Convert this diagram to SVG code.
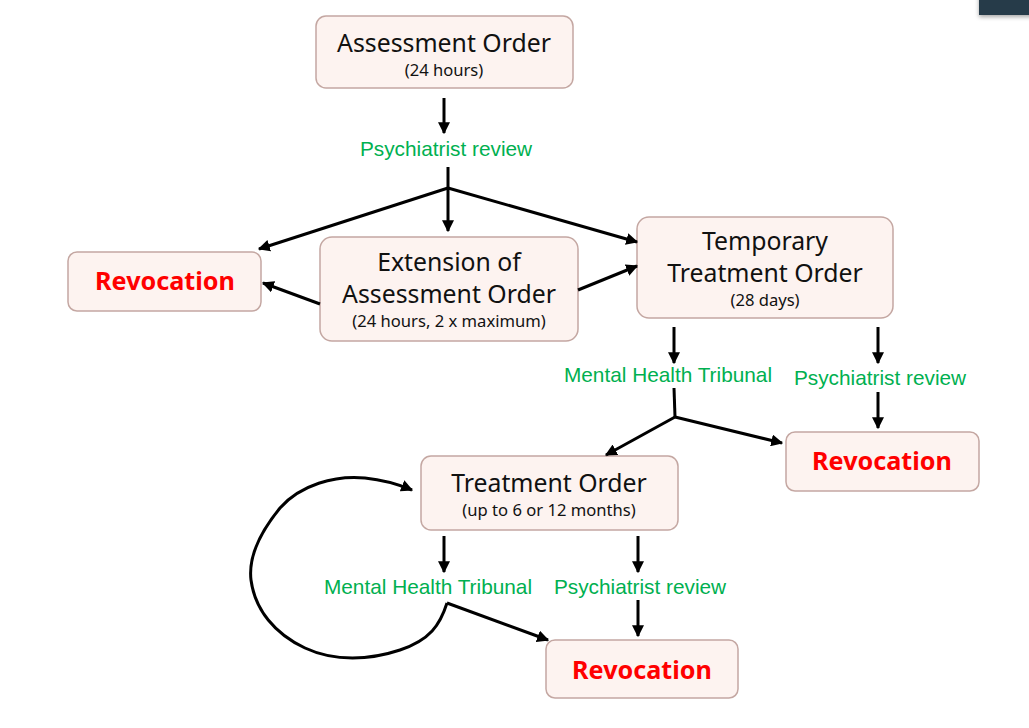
<svg xmlns="http://www.w3.org/2000/svg" width="1029" height="728" viewBox="0 0 1029 728">
<style>
.box{fill:#fdf3f0;stroke:#c4a7a2;stroke-width:1.5}
.t{font-family:"Noto Sans","Open Sans",sans-serif;fill:#111;text-anchor:middle}
.big{font-size:24.8px}
.small{font-size:16.6px}
.rev{font-family:"Noto Sans","Open Sans",sans-serif;font-weight:bold;font-size:25.2px;fill:#ff0000;text-anchor:middle}
.g{font-family:"Liberation Sans",Arial,sans-serif;font-size:20.8px;fill:#00b050;text-anchor:middle}
.c{stroke:#000;stroke-width:3;fill:none}
</style>
<defs>
<marker id="ah" viewBox="0 0 10 10" refX="9" refY="5" markerWidth="4" markerHeight="4" orient="auto" markerUnits="strokeWidth">
<path d="M0,0 L10,5 L0,10 z" fill="#000"/>
</marker>
<filter id="sh" x="-20%" y="-20%" width="140%" height="160%"><feDropShadow dx="0" dy="2" stdDeviation="2" flood-opacity="0.35"/></filter>
</defs>
<rect width="1029" height="728" fill="#ffffff"/>
<rect x="979" y="-6" width="60" height="21" fill="#283a48" filter="url(#sh)"/>

<g id="assessment">
<rect class="box" x="316" y="16" width="257" height="72" rx="10"/>
<text class="t big" x="444" y="52">Assessment Order</text>
<text class="t small" x="444" y="76">(24 hours)</text>
</g>
<g id="extension">
<rect class="box" x="320" y="237" width="258" height="104" rx="12"/>
<text class="t big" x="449" y="271">Extension of</text>
<text class="t big" x="449" y="303">Assessment Order</text>
<text class="t small" x="449" y="327">(24 hours, 2 x maximum)</text>
</g>
<g id="revocation1">
<rect class="box" x="68" y="252" width="193" height="59" rx="9"/>
<text class="rev" x="165" y="290">Revocation</text>
</g>
<g id="temporary">
<rect class="box" x="637" y="217" width="256" height="101" rx="12"/>
<text class="t big" x="765" y="250">Temporary</text>
<text class="t big" x="765" y="282">Treatment Order</text>
<text class="t small" x="765" y="306">(28 days)</text>
</g>
<g id="revocation2">
<rect class="box" x="786" y="432" width="193" height="59" rx="9"/>
<text class="rev" x="882" y="470">Revocation</text>
</g>
<g id="treatment">
<rect class="box" x="421" y="456" width="257" height="74" rx="10"/>
<text class="t big" x="549" y="492">Treatment Order</text>
<text class="t small" x="549" y="516">(up to 6 or 12 months)</text>
</g>
<g id="revocation3">
<rect class="box" x="546" y="640" width="192" height="58" rx="9"/>
<text class="rev" x="642" y="679">Revocation</text>
</g>

<g id="labels">
<text class="g" x="446" y="156">Psychiatrist review</text>
<text class="g" x="668" y="382">Mental Health Tribunal</text>
<text class="g" x="880" y="385">Psychiatrist review</text>
<text class="g" x="428" y="594">Mental Health Tribunal</text>
<text class="g" x="640" y="594">Psychiatrist review</text>
</g>

<g id="connectors">
<path class="c" d="M444,98 L444,133" marker-end="url(#ah)"/>
<path class="c" d="M448,167 L448,188"/>
<path class="c" d="M448,188 L448,231" marker-end="url(#ah)"/>
<path class="c" d="M448,188 L259,249" marker-end="url(#ah)"/>
<path class="c" d="M448,188 L637,242" marker-end="url(#ah)"/>
<path class="c" d="M320,304 L263,283" marker-end="url(#ah)"/>
<path class="c" d="M578,290 L637,266" marker-end="url(#ah)"/>
<path class="c" d="M674,327 L674,363" marker-end="url(#ah)"/>
<path class="c" d="M878,327 L878,363" marker-end="url(#ah)"/>
<path class="c" d="M878,392 L878,428" marker-end="url(#ah)"/>
<path class="c" d="M674,388 L675,417"/>
<path class="c" d="M675,417 L606,455" marker-end="url(#ah)"/>
<path class="c" d="M675,417 L782,443" marker-end="url(#ah)"/>
<path class="c" d="M444,536 L444,572" marker-end="url(#ah)"/>
<path class="c" d="M638,536 L638,572" marker-end="url(#ah)"/>
<path class="c" d="M638,600 L638,636" marker-end="url(#ah)"/>
<path class="c" d="M447,603 L548,640" marker-end="url(#ah)"/>
<path class="c" d="M447,603 C440,625 430,640 400,650 C370,660 335,662 305,648 C275,634 255,610 251,580 C248,555 262,530 280,508 C300,485 335,475 365,478 C385,480 400,485 412,490" marker-end="url(#ah)"/>
</g>
</svg>
